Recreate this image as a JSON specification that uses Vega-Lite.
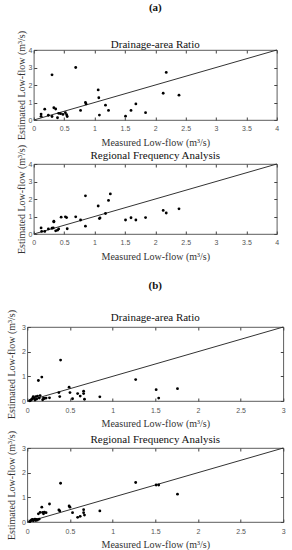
{
  "$schema": "https://vega.github.io/schema/vega-lite/v6.json",
  "background": "white",
  "padding": {"left": 6, "top": 2, "right": 3, "bottom": 3},
  "datasets": {
    "a_dar": [
      {"measured": 0.12, "estimated": 0.34}, {"measured": 0.12, "estimated": 0.21}, {"measured": 0.18, "estimated": 0.62},
      {"measured": 0.24, "estimated": 0.27}, {"measured": 0.30, "estimated": 2.58}, {"measured": 0.30, "estimated": 0.20},
      {"measured": 0.33, "estimated": 0.70}, {"measured": 0.36, "estimated": 0.63}, {"measured": 0.39, "estimated": 0.13},
      {"measured": 0.41, "estimated": 0.38}, {"measured": 0.44, "estimated": 0.36}, {"measured": 0.48, "estimated": 0.32},
      {"measured": 0.52, "estimated": 0.42}, {"measured": 0.54, "estimated": 0.30}, {"measured": 0.55, "estimated": 0.20},
      {"measured": 0.69, "estimated": 3.00}, {"measured": 0.77, "estimated": 0.55}, {"measured": 0.85, "estimated": 1.00},
      {"measured": 0.86, "estimated": 0.92}, {"measured": 1.06, "estimated": 1.72}, {"measured": 1.07, "estimated": 1.27},
      {"measured": 1.08, "estimated": 0.28}, {"measured": 1.18, "estimated": 0.85}, {"measured": 1.23, "estimated": 0.55},
      {"measured": 1.51, "estimated": 0.22}, {"measured": 1.60, "estimated": 0.55}, {"measured": 1.68, "estimated": 0.92},
      {"measured": 1.84, "estimated": 0.42}, {"measured": 2.13, "estimated": 1.53}, {"measured": 2.18, "estimated": 2.72},
      {"measured": 2.39, "estimated": 1.42}
    ],
    "a_rfa": [
      {"measured": 0.12, "estimated": 0.35}, {"measured": 0.13, "estimated": 0.15}, {"measured": 0.18, "estimated": 0.15},
      {"measured": 0.24, "estimated": 0.29}, {"measured": 0.30, "estimated": 0.33}, {"measured": 0.32, "estimated": 0.35},
      {"measured": 0.33, "estimated": 0.69}, {"measured": 0.33, "estimated": 0.73}, {"measured": 0.36, "estimated": 0.18},
      {"measured": 0.39, "estimated": 0.22}, {"measured": 0.41, "estimated": 0.29}, {"measured": 0.45, "estimated": 0.96},
      {"measured": 0.52, "estimated": 0.98}, {"measured": 0.54, "estimated": 0.94}, {"measured": 0.55, "estimated": 0.30},
      {"measured": 0.69, "estimated": 0.98}, {"measured": 0.77, "estimated": 0.80}, {"measured": 0.85, "estimated": 2.18},
      {"measured": 0.85, "estimated": 0.45}, {"measured": 1.06, "estimated": 1.60}, {"measured": 1.08, "estimated": 0.88},
      {"measured": 1.09, "estimated": 0.92}, {"measured": 1.18, "estimated": 1.17}, {"measured": 1.23, "estimated": 1.92},
      {"measured": 1.26, "estimated": 2.29}, {"measured": 1.51, "estimated": 0.80}, {"measured": 1.60, "estimated": 0.93},
      {"measured": 1.68, "estimated": 0.80}, {"measured": 1.84, "estimated": 0.94}, {"measured": 2.13, "estimated": 1.35},
      {"measured": 2.18, "estimated": 1.20}, {"measured": 2.39, "estimated": 1.44}
    ],
    "b": [
      {"measured": 0.03, "dar": 0.01, "rfa": 0.02}, {"measured": 0.04, "dar": 0.03, "rfa": 0.05},
      {"measured": 0.05, "dar": 0.06, "rfa": 0.08}, {"measured": 0.06, "dar": 0.10, "rfa": 0.10},
      {"measured": 0.07, "dar": 0.18, "rfa": 0.05}, {"measured": 0.08, "dar": 0.12, "rfa": 0.09},
      {"measured": 0.09, "dar": 0.04, "rfa": 0.12}, {"measured": 0.10, "dar": 0.18, "rfa": 0.06},
      {"measured": 0.11, "dar": 0.08, "rfa": 0.10}, {"measured": 0.12, "dar": 0.20, "rfa": 0.08},
      {"measured": 0.13, "dar": 0.83, "rfa": 0.33}, {"measured": 0.14, "dar": 0.12, "rfa": 0.12},
      {"measured": 0.15, "dar": 0.22, "rfa": 0.39}, {"measured": 0.17, "dar": 0.97, "rfa": 0.60},
      {"measured": 0.18, "dar": 0.05, "rfa": 0.39}, {"measured": 0.19, "dar": 0.12, "rfa": 0.33},
      {"measured": 0.20, "dar": 0.10, "rfa": 0.40}, {"measured": 0.22, "dar": 0.12, "rfa": 0.38},
      {"measured": 0.26, "dar": 0.13, "rfa": 0.73}, {"measured": 0.37, "dar": 0.34, "rfa": 0.49},
      {"measured": 0.38, "dar": 0.18, "rfa": 0.45}, {"measured": 0.39, "dar": 1.66, "rfa": 1.57},
      {"measured": 0.49, "dar": 0.56, "rfa": 0.65}, {"measured": 0.50, "dar": 0.34, "rfa": 0.60},
      {"measured": 0.53, "dar": 0.09, "rfa": 0.38}, {"measured": 0.59, "dar": 0.30, "rfa": 0.19},
      {"measured": 0.62, "dar": 0.20, "rfa": 0.23}, {"measured": 0.66, "dar": 0.40, "rfa": 0.50},
      {"measured": 0.66, "dar": 0.30, "rfa": 0.38}, {"measured": 0.67, "dar": 0.07, "rfa": 0.28},
      {"measured": 0.85, "dar": 0.17, "rfa": 0.45}, {"measured": 1.27, "dar": 0.87, "rfa": 1.60},
      {"measured": 1.51, "dar": 0.46, "rfa": 1.50}, {"measured": 1.54, "dar": 0.12, "rfa": 1.50},
      {"measured": 1.76, "dar": 0.50, "rfa": 1.13}
    ],
    "diag_a": [{"measured": 0, "estimated": 0}, {"measured": 4, "estimated": 4}],
    "diag_b": [{"measured": 0, "estimated": 0}, {"measured": 3, "estimated": 3}]
  },
  "center": true,
  "spacing": -4,
  "vconcat": [
    {
      "width": 243, "height": 70,
      "title": {"text": "(a)", "subtitle": "Drainage-area Ratio", "fontWeight": "bold", "subtitlePadding": 26, "offset": -20, "anchor": "middle", "frame": "group"},
      "layer": [
        {
          "data": {"name": "diag_a"},
          "mark": {"type": "line", "color": "#333", "strokeWidth": 1},
          "encoding": {
            "x": {"field": "measured", "type": "quantitative", "scale": {"domain": [0, 4], "nice": false}, "axis": {"orient": "top", "labels": false, "title": null, "values": [0, 0.5, 1, 1.5, 2, 2.5, 3, 3.5, 4]}},
            "y": {"field": "estimated", "type": "quantitative", "scale": {"domain": [0, 4], "nice": false}, "axis": {"orient": "right", "labels": false, "title": null, "values": [0, 1, 2, 3, 4]}}
          }
        },
        {
          "data": {"name": "a_dar"},
          "mark": {"type": "circle", "size": 8, "color": "black", "opacity": 1},
          "encoding": {
            "x": {"field": "measured", "type": "quantitative", "axis": {"orient": "bottom", "title": "Measured Low-flow (m³/s)", "values": [0, 0.5, 1, 1.5, 2, 2.5, 3, 3.5, 4], "format": "~g", "labelPadding": 7, "titlePadding": 6}},
            "y": {"field": "estimated", "type": "quantitative", "axis": {"orient": "left", "title": "Estimated Low-flow (m³/s)", "values": [0, 1, 2, 3, 4], "titlePadding": 1}}
          }
        }
      ],
      "resolve": {"axis": {"x": "independent", "y": "independent"}}
    },
    {
      "width": 243, "height": 70,
      "title": {"text": "Regional Frequency Analysis", "offset": -17, "anchor": "middle", "frame": "group"},
      "layer": [
        {
          "data": {"name": "diag_a"},
          "mark": {"type": "line", "color": "#333", "strokeWidth": 1},
          "encoding": {
            "x": {"field": "measured", "type": "quantitative", "scale": {"domain": [0, 4], "nice": false}, "axis": {"orient": "top", "labels": false, "title": null, "values": [0, 0.5, 1, 1.5, 2, 2.5, 3, 3.5, 4]}},
            "y": {"field": "estimated", "type": "quantitative", "scale": {"domain": [0, 4], "nice": false}, "axis": {"orient": "right", "labels": false, "title": null, "values": [0, 1, 2, 3, 4]}}
          }
        },
        {
          "data": {"name": "a_rfa"},
          "mark": {"type": "circle", "size": 8, "color": "black", "opacity": 1},
          "encoding": {
            "x": {"field": "measured", "type": "quantitative", "axis": {"orient": "bottom", "title": "Measured Low-flow (m³/s)", "values": [0, 0.5, 1, 1.5, 2, 2.5, 3, 3.5, 4], "format": "~g", "labelPadding": 7, "titlePadding": 6}},
            "y": {"field": "estimated", "type": "quantitative", "axis": {"orient": "left", "title": "Estimated Low-flow (m³/s)", "values": [0, 1, 2, 3, 4], "titlePadding": 1}}
          }
        }
      ],
      "resolve": {"axis": {"x": "independent", "y": "independent"}}
    },
    {
      "width": 256, "height": 74,
      "title": {"text": ["", "(b)"], "lineHeight": 22, "subtitle": "Drainage-area Ratio", "fontWeight": "bold", "subtitlePadding": 21, "offset": -14, "anchor": "middle", "frame": "group"},
      "layer": [
        {
          "data": {"name": "diag_b"},
          "mark": {"type": "line", "color": "#333", "strokeWidth": 1},
          "encoding": {
            "x": {"field": "measured", "type": "quantitative", "scale": {"domain": [0, 3], "nice": false}, "axis": {"orient": "top", "labels": false, "title": null, "values": [0, 0.5, 1, 1.5, 2, 2.5, 3]}},
            "y": {"field": "estimated", "type": "quantitative", "scale": {"domain": [0, 3], "nice": false}, "axis": {"orient": "right", "labels": false, "title": null, "values": [0, 1, 2, 3]}}
          }
        },
        {
          "data": {"name": "b"},
          "mark": {"type": "circle", "size": 8, "color": "black", "opacity": 1},
          "encoding": {
            "x": {"field": "measured", "type": "quantitative", "axis": {"orient": "bottom", "title": "Measured Low-flow (m³/s)", "values": [0, 0.5, 1, 1.5, 2, 2.5, 3], "format": "~g", "labelPadding": 8, "titlePadding": 5}},
            "y": {"field": "dar", "type": "quantitative", "axis": {"orient": "left", "title": "Estimated Low-flow (m³/s)", "values": [0, 1, 2, 3], "titlePadding": 5}}
          }
        }
      ],
      "resolve": {"axis": {"x": "independent", "y": "independent"}}
    },
    {
      "width": 256, "height": 74,
      "title": {"text": ["", "Regional Frequency Analysis"], "lineHeight": 8.5, "offset": -15, "anchor": "middle", "frame": "group"},
      "layer": [
        {
          "data": {"name": "diag_b"},
          "mark": {"type": "line", "color": "#333", "strokeWidth": 1},
          "encoding": {
            "x": {"field": "measured", "type": "quantitative", "scale": {"domain": [0, 3], "nice": false}, "axis": {"orient": "top", "labels": false, "title": null, "values": [0, 0.5, 1, 1.5, 2, 2.5, 3]}},
            "y": {"field": "estimated", "type": "quantitative", "scale": {"domain": [0, 3], "nice": false}, "axis": {"orient": "right", "labels": false, "title": null, "values": [0, 1, 2, 3]}}
          }
        },
        {
          "data": {"name": "b"},
          "mark": {"type": "circle", "size": 8, "color": "black", "opacity": 1},
          "encoding": {
            "x": {"field": "measured", "type": "quantitative", "axis": {"orient": "bottom", "title": "Measured Low-flow (m³/s)", "values": [0, 0.5, 1, 1.5, 2, 2.5, 3], "format": "~g", "labelPadding": 8, "titlePadding": 5}},
            "y": {"field": "rfa", "type": "quantitative", "axis": {"orient": "left", "title": "Estimated Low-flow (m³/s)", "values": [0, 1, 2, 3], "titlePadding": 5}}
          }
        }
      ],
      "resolve": {"axis": {"x": "independent", "y": "independent"}}
    }
  ],
  "config": {
    "view": {"stroke": "#333", "strokeWidth": 0.8},
    "axis": {"domain": false, "grid": false, "tickSize": -3, "tickColor": "#444", "labelPadding": 5, "labelFont": "Liberation Sans", "labelFontSize": 7, "labelColor": "#555", "labelFlush": false, "titleFont": "Liberation Serif", "titleFontSize": 10, "titleFontWeight": "normal", "titleColor": "#333"},
    "title": {"font": "Liberation Serif", "fontSize": 11, "fontWeight": "normal", "color": "#111", "subtitleFont": "Liberation Serif", "subtitleFontSize": 11, "subtitleColor": "#111"}
  }
}
